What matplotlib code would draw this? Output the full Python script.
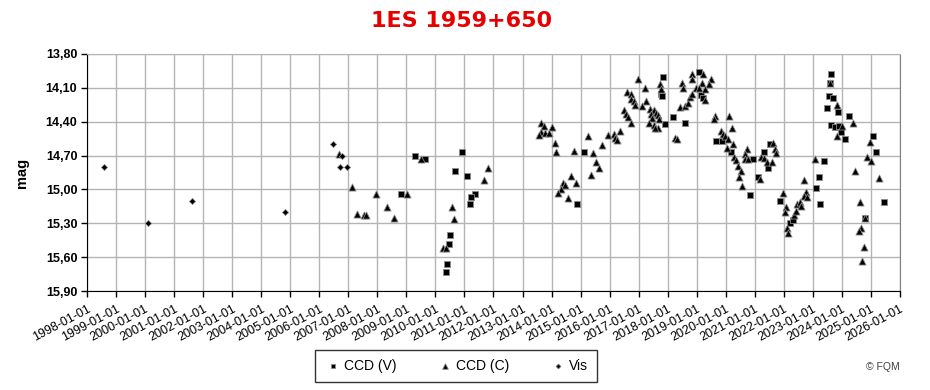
import matplotlib
matplotlib.use("Agg")
import matplotlib.pyplot as plt
import matplotlib.dates as mdates
from matplotlib.ticker import FixedLocator, FuncFormatter
import numpy as np
import pandas as pd

plt.rcParams['font.family'] = ['Liberation Sans', 'DejaVu Sans']

# decimal year, magnitude
ccd_v_year = [2008.83, 2009.28, 2009.64, 2010.69, 2010.90, 2011.08, 2011.36, 2011.21, 2011.18,
              2010.50, 2010.46, 2010.40, 2010.35, 2015.11, 2014.87, 2017.85, 2017.77, 2017.79,
              2017.90, 2018.18, 2018.59, 2019.07, 2019.13, 2019.22, 2019.66, 2019.88, 2020.18,
              2020.83, 2020.93, 2021.10, 2021.31, 2021.45, 2021.51, 2021.86, 2022.21, 2022.30,
              2023.62, 2023.59, 2023.54, 2023.68, 2023.48, 2023.86, 2024.26, 2023.61, 2023.75,
              2023.91, 2023.97, 2024.11, 2025.06, 2025.17, 2023.38, 2023.21, 2023.10, 2023.26,
              2025.44, 2024.79]
ccd_v_mag = [15.04, 14.70, 14.73, 14.84, 14.67, 14.88, 15.04, 15.07, 15.13,
             15.40, 15.48, 15.66, 15.73, 14.67, 15.13, 14.00, 14.15, 14.17,
             14.42, 14.36, 14.41, 13.96, 14.16, 14.19, 14.57, 14.57, 14.67,
             15.05, 14.73, 14.89, 14.67, 14.81, 14.60, 15.10, 15.30, 15.27,
             13.98, 14.06, 14.17, 14.19, 14.28, 14.31, 14.35, 14.43, 14.45,
             14.44, 14.49, 14.55, 14.53, 14.67, 14.75, 14.89, 14.99, 15.13,
             15.11, 15.25]

ccd_c_year = [2006.69, 2007.13, 2007.95, 2007.31, 2007.55, 2007.62, 2008.33, 2008.58, 2009.02,
              2009.51, 2011.82, 2011.67, 2010.57, 2010.64, 2010.25, 2010.36,
              2013.64, 2013.73, 2014.02, 2013.63, 2013.78, 2013.91, 2013.56, 2014.13, 2014.15,
              2014.77, 2015.42, 2015.26, 2015.53, 2015.62, 2015.36, 2015.73, 2015.94, 2016.14,
              2016.20, 2016.25, 2016.37, 2014.67, 2014.84, 2014.38, 2014.45, 2014.31, 2014.22,
              2014.56,
              2016.51, 2016.56, 2016.64, 2016.73, 2016.99, 2017.75, 2017.77, 2017.21, 2016.59,
              2016.75, 2016.72, 2016.84, 2017.25, 2016.89, 2017.11, 2017.38, 2017.53, 2017.60,
              2017.42, 2017.65, 2017.45, 2017.69, 2017.36, 2017.52, 2017.66, 2017.56, 2018.26,
              2018.31, 2018.42, 2018.59, 2018.71, 2018.77, 2018.82, 2018.50, 2018.53, 2018.82,
              2018.85, 2019.22, 2019.17, 2018.99, 2019.08, 2019.48, 2019.42, 2019.27, 2019.28,
              2019.63, 2019.60, 2019.83,
              2020.12, 2020.20, 2019.91, 2019.99, 2020.07, 2020.24, 2020.04, 2020.29, 2020.35,
              2020.42, 2020.54, 2020.46, 2020.56, 2020.73, 2020.67, 2020.65, 2020.75, 2021.17,
              2021.22, 2021.31, 2021.43, 2021.59, 2021.62, 2021.71, 2021.74, 2021.96, 2022.07,
              2022.05, 2022.11, 2022.16, 2022.36, 2022.41, 2022.47, 2022.55, 2022.60, 2022.70,
              2022.76, 2022.68, 2022.80,
              2023.59, 2023.83, 2024.37, 2024.00, 2023.83, 2024.96, 2024.88, 2024.99, 2024.44,
              2025.27, 2023.07, 2024.62, 2024.79, 2024.67, 2024.60, 2024.75, 2024.68]
ccd_c_mag = [14.69, 14.98, 15.04, 15.22, 15.23, 15.23, 15.16, 15.25, 15.04,
             14.73, 14.81, 14.92, 15.16, 15.26, 15.52, 15.52,
             14.41, 14.44, 14.45, 14.49, 14.50, 14.50, 14.52, 14.59, 14.67,
             14.66, 14.68, 14.53, 14.76, 14.81, 14.87, 14.61, 14.52, 14.51,
             14.54, 14.56, 14.48, 14.88, 14.94, 14.94, 14.96, 15.00, 15.03,
             15.08,
             14.30, 14.33, 14.36, 14.41, 14.02, 14.07, 14.11, 14.10, 14.14,
             14.15, 14.20, 14.22, 14.22, 14.25, 14.26, 14.29, 14.30, 14.32,
             14.33, 14.34, 14.37, 14.38, 14.41, 14.43, 14.46, 14.46, 14.54,
             14.55, 14.27, 14.26, 14.23, 14.18, 14.15, 14.06, 14.10, 13.98,
             14.02, 13.98, 14.06, 14.10, 14.10, 14.02, 14.07, 14.11, 14.21,
             14.35, 14.38, 14.48,
             14.35, 14.46, 14.51, 14.53, 14.55, 14.60, 14.63, 14.71, 14.74,
             14.79, 14.84, 14.89, 14.97, 14.64, 14.69, 14.73, 14.73, 14.91,
             14.71, 14.72, 14.76, 14.76, 14.59, 14.64, 14.68, 15.03, 15.16,
             15.20, 15.34, 15.39, 15.23, 15.19, 15.13, 15.11, 15.15, 14.92,
             15.02, 15.06, 15.07,
             14.06, 14.25, 14.41, 14.44, 14.53, 14.58, 14.71, 14.75, 14.84,
             14.90, 14.73, 15.11, 15.25, 15.34, 15.37, 15.51, 15.63]

vis_year = [1998.60, 2000.09, 2001.60, 2004.82, 2006.46, 2006.77, 2006.71, 2006.95]
vis_mag = [14.80, 15.295, 15.10, 15.20, 14.595, 14.70, 14.80, 14.80]

y_ticks = [13.80, 14.10, 14.40, 14.70, 15.00, 15.30, 15.60, 15.90]
years = list(range(1998, 2027))


def to_dates(dec_years):
    out = []
    for d in dec_years:
        y = int(d)
        start = pd.Timestamp(year=y, month=1, day=1)
        days = (pd.Timestamp(year=y + 1, month=1, day=1) - start).days
        out.append(start + pd.Timedelta(days=(d - y) * days))
    return out


fig = plt.figure(figsize=(9.3, 3.9), dpi=100)
ax = fig.add_axes([87 / 930, 1 - 291 / 390, 813 / 930, 237 / 390])

ax.scatter(to_dates(ccd_v_year), ccd_v_mag, marker='s', s=20, c='black',
           edgecolors='#8a8a8a', linewidths=0.6, label='CCD (V)', zorder=3)
ax.scatter(to_dates(ccd_c_year), ccd_c_mag, marker='^', s=26, c='black',
           edgecolors='#8a8a8a', linewidths=0.6, label='CCD (C)', zorder=3)
ax.scatter(to_dates(vis_year), vis_mag, marker='D', s=10, c='black',
           edgecolors='#8a8a8a', linewidths=0.5, label='Vis', zorder=3)

ax.set_ylim(15.90, 13.80)
ax.yaxis.set_major_locator(FixedLocator(y_ticks))
ax.yaxis.set_major_formatter(FuncFormatter(lambda v, p: ('%.2f' % v).replace('.', ',')))

year_dates = [pd.Timestamp(year=y, month=1, day=1) for y in years]
ax.set_xlim(year_dates[0], year_dates[-1])
ax.set_xticks(year_dates)
ax.xaxis.set_major_formatter(mdates.DateFormatter('%Y-%m-%d'))
plt.setp(ax.get_xticklabels(), rotation=28, ha='right', rotation_mode='anchor', fontsize=9)
plt.setp(ax.get_yticklabels(), fontsize=9, fontweight='bold')

ax.grid(True, color='#b4b4b4', linewidth=1)
ax.set_axisbelow(True)
ax.tick_params(axis='both', direction='out', length=4, width=1, color='black', pad=3)
ax.tick_params(axis='x', pad=5)
ax.spines['top'].set_color('#b4b4b4')
ax.spines['right'].set_color('#808080')
ax.spines['left'].set_color('black')
ax.spines['bottom'].set_color('black')

ax.set_ylabel('mag', fontsize=10.5, fontweight='bold', labelpad=12)

fig.text(462 / 930, 1 - 21 / 390, '1ES 1959+650', color='#e60000', fontsize=16,
         fontweight='bold', ha='center', va='center', family='DejaVu Sans')

leg = fig.legend(loc='center', bbox_to_anchor=(456 / 930, 1 - 366 / 390), ncol=3,
                 frameon=True, fancybox=False, edgecolor='black', fontsize=10,
                 markerscale=0.8, handletextpad=0.2, columnspacing=2.9,
                 borderpad=0.65, handlelength=1.2)
leg.get_frame().set_linewidth(1)

fig.text(883 / 930, 1 - 367 / 390, '© FQM', fontsize=7.5, color='#404040',
         ha='center', va='center')

fig.savefig('out.png', dpi=100)
